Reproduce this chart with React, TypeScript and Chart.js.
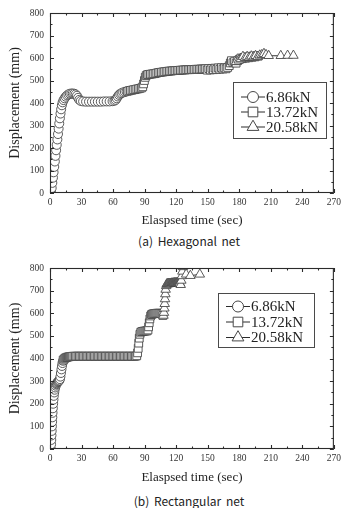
import React, { useEffect, useRef } from 'react';
import { Chart, registerables } from 'chart.js';

Chart.register(...registerables);

type Pt = [number, number];

const SERIES_LABELS = ['6.86kN', '13.72kN', '20.58kN'];
const X_MIN = 0;
const X_MAX = 270;
const X_STEP = 30;
const Y_MIN = 0;
const Y_MAX = 800;
const Y_STEP = 100;
const X_TITLE = 'Elaspsed time (sec)';
const Y_TITLE = 'Displacement (mm)';
const CAPTIONS = ['(a) Hexagonal net', '(b) Rectangular net'];

// (a) Hexagonal net — [time (s), displacement (mm)]
const HEX_686: Pt[] = [
  [1.0, 2], [1.6, 22], [2.2, 45], [2.8, 68], [3.4, 92], [4.0, 116], [4.6, 140], [5.2, 165],
  [5.8, 190], [6.4, 214], [7.0, 238], [7.6, 262], [8.2, 286], [8.8, 309], [9.4, 332], [10.0, 353],
  [10.6, 372], [11.3, 390], [12.0, 403], [12.9, 413], [13.9, 421], [15.0, 428], [16.2, 434],
  [17.5, 438], [18.9, 441], [20.3, 442], [21.7, 442], [23.1, 441], [24.4, 438], [25.6, 432],
  [26.7, 423], [27.9, 414], [29.3, 409], [31.5, 407], [34.3, 406], [37.1, 406], [39.9, 406],
  [42.7, 406], [45.5, 406], [48.3, 406], [51.1, 407], [53.9, 407], [56.7, 407], [59.5, 408],
  [61.3, 410], [62.5, 414], [63.5, 421], [64.5, 429], [65.6, 436], [66.8, 441], [68.1, 444],
  [69.6, 447], [71.2, 449], [72.8, 451],
];

const HEX_1372: Pt[] = [
  [73.5, 452], [75, 454], [76.5, 456], [78, 457], [79.5, 459], [81, 460], [82.5, 462], [84, 463],
  [85.5, 465], [87, 467], [88.2, 472], [89, 485], [89.8, 500], [90.6, 514], [91.5, 522], [92.7, 526],
  [94, 527], [95.5, 528], [97, 529], [98.5, 530], [100, 531], [101.5, 533], [103, 535], [104.5, 536],
  [106, 537], [107.5, 538], [109, 539], [110.5, 540], [112, 541], [113.5, 542], [115, 542],
  [116.5, 543], [118, 544], [119.5, 544], [121, 545], [122.5, 545], [124, 546], [125.5, 546],
  [127, 547], [128.5, 547], [130, 548], [131.5, 548], [133, 548], [134.5, 549], [136, 549],
  [137.5, 549], [139, 550], [140.5, 550], [142, 550], [143.5, 551], [145, 551], [146.5, 551],
  [148, 552], [149.5, 546], [151, 553], [152.5, 547], [154, 554], [155.5, 548], [157, 555],
  [158.5, 549], [160, 556], [161.5, 550], [163, 557], [164.5, 551], [166, 556], [167.5, 552],
  [169, 558], [170.5, 566], [171.5, 578], [172.5, 588], [174, 579], [175.5, 584], [177, 577],
  [178.5, 588], [180, 594], [181.5, 600], [183, 597], [184.5, 602], [186, 599], [187.5, 604],
  [189, 601], [190.5, 606], [192, 603], [193.5, 608], [195, 605], [196.5, 610], [198, 608],
];

const HEX_2058: Pt[] = [
  [177, 583], [179.5, 590], [181.5, 596], [183.5, 606], [185.5, 601], [187.5, 606], [189.5, 603],
  [191.5, 608], [193.5, 604], [195.5, 610], [197.5, 606], [199.5, 612], [201.5, 614], [203.5, 619],
  [205.5, 614], [208, 610], [219.5, 610], [226, 611], [231.5, 611],
];

// (b) Rectangular net — [time (s), displacement (mm)]
const RECT_686: Pt[] = [
  [0.8, 0], [1.0, 20], [1.2, 40], [1.4, 60], [1.6, 80], [1.8, 100], [2.0, 120], [2.2, 140],
  [2.4, 160], [2.7, 180], [3.0, 200], [3.3, 218], [3.6, 235], [4.0, 250], [4.4, 262], [4.9, 272],
  [5.4, 280], [5.9, 286], [6.4, 290], [6.9, 293], [7.4, 296], [7.9, 298], [8.4, 300], [8.9, 303],
  [9.4, 309], [9.9, 320], [10.4, 336], [10.9, 352], [11.4, 367], [11.9, 380], [12.5, 390],
  [13.1, 397],
];

const RECT_1372: Pt[] = [
  [12.5, 393], [13.5, 398], [14.5, 402], [15.5, 404], [16.5, 406], [17.5, 407], [18.5, 408],
  [19.5, 409], [20.5, 409], [21.5, 410], [22.8, 410], [24.1, 410], [25.4, 410], [26.7, 410],
  [28, 410], [29.3, 410], [30.6, 410], [31.9, 410], [33.2, 410], [34.5, 410], [35.8, 410],
  [37.1, 410], [38.4, 410], [39.7, 410], [41, 410], [42.3, 410], [43.6, 410], [44.9, 410],
  [46.2, 410], [47.5, 410], [48.8, 410], [50.1, 410], [51.4, 410], [52.7, 410], [54, 410],
  [55.3, 410], [56.6, 410], [57.9, 410], [59.2, 410], [60.5, 410], [61.8, 410], [63.1, 410],
  [64.4, 410], [65.7, 410], [67, 410], [68.3, 410], [69.6, 410], [70.9, 410], [72.2, 410],
  [73.5, 410], [74.8, 410], [76.1, 410], [77.4, 410], [78.7, 410], [80, 410], [81.3, 410],
  [82.5, 412], [83.3, 425], [83.9, 445], [84.4, 468], [84.9, 490], [85.5, 507], [86.3, 516],
  [87.3, 519], [88.3, 520], [89.3, 521], [90.3, 521], [91.3, 522], [92.3, 522], [93.2, 526],
  [93.8, 540], [94.4, 558], [95, 575], [95.7, 588], [96.5, 594], [97.5, 597], [98.5, 598],
  [99.5, 599], [100.5, 599], [101.5, 600], [102.5, 600], [103.5, 600], [104.5, 600], [105.5, 599],
  [106.5, 597], [107.4, 590],
];

const RECT_2058: Pt[] = [
  [107.9, 590], [108.4, 603], [108.8, 622], [109.1, 642], [109.4, 663], [109.7, 685], [110, 705],
  [110.5, 721], [111, 728], [111.45, 729], [111.9, 729], [112.35, 730], [112.8, 730], [113.25, 730],
  [113.7, 731], [114.15, 731], [114.6, 731], [115.05, 731], [115.5, 732], [115.95, 732], [116.4, 732],
  [116.85, 732], [117.3, 732], [117.75, 733], [118.2, 733], [118.65, 733], [119.1, 733], [119.55, 733],
  [120, 733], [120.45, 733], [120.9, 734], [121.35, 734], [121.8, 734], [122.25, 734], [122.7, 734],
  [123.15, 734], [123.6, 732], [124.3, 726], [124.9, 745], [125.4, 765], [125.9, 785], [126.4, 805],
  [126.9, 825], [129.5, 772], [133.5, 766], [142.5, 772],
];

const HEX_SERIES: Pt[][] = [HEX_686, HEX_1372, HEX_2058];
const RECT_SERIES: Pt[][] = [RECT_686, RECT_1372, RECT_2058];

const SERIF = '"Liberation Serif", "Times New Roman", serif';
const INK = '#2b2b2b';
const MARK_INK = '#484848';
const MARKERS = [
  { pointStyle: 'circle', pointRadius: 4.5 },
  { pointStyle: 'rect', pointRadius: 5.5 },
  { pointStyle: 'triangle', pointRadius: 5.5 },
];

function drawMarker(ctx: CanvasRenderingContext2D, style: string, x: number, y: number, r: number) {
  ctx.beginPath();
  if (style === 'circle') {
    ctx.arc(x, y, r, 0, Math.PI * 2);
  } else if (style === 'rect') {
    const s = r * Math.SQRT1_2;
    ctx.rect(x - s, y - s, 2 * s, 2 * s);
  } else {
    const a = Math.PI / 6;
    ctx.moveTo(x, y - r);
    ctx.lineTo(x + r * Math.cos(a), y + r * Math.sin(a));
    ctx.lineTo(x - r * Math.cos(a), y + r * Math.sin(a));
    ctx.closePath();
  }
  ctx.fillStyle = '#fff';
  ctx.fill();
  ctx.strokeStyle = MARK_INK;
  ctx.lineWidth = 1;
  ctx.stroke();
}

// Plot frame with inward major/minor ticks on all four sides
const frameTicks = {
  id: 'frameTicks',
  afterDatasetsDraw(chart: any) {
    const { ctx, chartArea, scales } = chart;
    const { left, right, top, bottom } = chartArea;
    const xs = scales.x;
    const ys = scales.y;
    ctx.save();
    ctx.strokeStyle = INK;
    ctx.lineWidth = 1.1;
    ctx.strokeRect(left + 0.5, top + 0.5, right - left - 1, bottom - top - 1);
    ctx.beginPath();
    for (let v = X_MIN; v <= X_MAX; v += X_STEP / 2) {
      const len = (v - X_MIN) % X_STEP === 0 ? 4 : 2.5;
      const px = Math.round(xs.getPixelForValue(v)) + 0.5;
      ctx.moveTo(px, bottom);
      ctx.lineTo(px, bottom - len);
      ctx.moveTo(px, top);
      ctx.lineTo(px, top + len);
    }
    for (let v = Y_MIN; v <= Y_MAX; v += Y_STEP / 2) {
      const len = (v - Y_MIN) % Y_STEP === 0 ? 4 : 2.5;
      const py = Math.round(ys.getPixelForValue(v)) + 0.5;
      ctx.moveTo(left, py);
      ctx.lineTo(left + len, py);
      ctx.moveTo(right, py);
      ctx.lineTo(right - len, py);
    }
    ctx.stroke();
    ctx.restore();
  },
};

// Boxed legend drawn inside the plot area
const legendBox = {
  id: 'legendBox',
  afterDraw(chart: any, _args: any, opts: any) {
    const { ctx } = chart;
    const { x, y, w, h, firstRow, rowGap } = opts;
    ctx.save();
    ctx.fillStyle = '#fff';
    ctx.fillRect(x, y, w, h);
    ctx.strokeStyle = '#4a4a4a';
    ctx.lineWidth = 1;
    ctx.strokeRect(x + 0.5, y + 0.5, w, h);
    chart.data.datasets.forEach((ds: any, i: number) => {
      const cy = y + firstRow + i * rowGap;
      ctx.beginPath();
      ctx.moveTo(x + 8, cy);
      ctx.lineTo(x + 32, cy);
      ctx.strokeStyle = INK;
      ctx.lineWidth = 1;
      ctx.stroke();
      drawMarker(ctx, ds.pointStyle, x + 20, cy, ds.pointStyle === 'circle' ? 5.5 : 6.8);
      ctx.fillStyle = '#222';
      ctx.font = `15px ${SERIF}`;
      ctx.textBaseline = 'middle';
      ctx.textAlign = 'left';
      ctx.fillText(ds.label, x + 33, cy + 1);
    });
    ctx.restore();
  },
};

function buildChart(canvas: HTMLCanvasElement, series: Pt[][], padTop: number, xAxisHeight: number, legend: any) {
  return new Chart(canvas, {
    type: 'scatter',
    data: {
      datasets: series.map((pts, i) => ({
        label: SERIES_LABELS[i],
        data: pts.map(([x, y]) => ({ x, y })),
        showLine: true,
        borderColor: '#333',
        borderWidth: 1,
        pointBackgroundColor: '#fff',
        pointBorderColor: MARK_INK,
        pointBorderWidth: 0.9,
        pointStyle: MARKERS[i].pointStyle as any,
        pointRadius: MARKERS[i].pointRadius,
        pointHoverRadius: MARKERS[i].pointRadius,
        order: 2 - i,
      })),
    },
    options: {
      responsive: false,
      animation: false,
      events: [],
      layout: { padding: { top: padTop, right: 11, left: 0, bottom: 0 } },
      plugins: {
        legend: { display: false },
        tooltip: { enabled: false },
        legendBox: legend,
      } as any,
      scales: {
        x: {
          type: 'linear',
          min: X_MIN,
          max: X_MAX,
          grid: { display: false, drawTicks: false },
          border: { display: false },
          ticks: {
            stepSize: X_STEP,
            autoSkip: false,
            maxRotation: 0,
            padding: 4,
            color: '#333',
            font: { family: SERIF, size: 9.5 },
          },
          title: {
            display: true,
            text: X_TITLE,
            color: '#222',
            font: { family: SERIF, size: 13 },
            padding: { top: 0, bottom: 3.2 },
          },
          afterFit: (s: any) => {
            s.height = xAxisHeight;
          },
        },
        y: {
          type: 'linear',
          min: Y_MIN,
          max: Y_MAX,
          grid: { display: false, drawTicks: false },
          border: { display: false },
          ticks: {
            stepSize: Y_STEP,
            padding: 6,
            color: '#333',
            font: { family: SERIF, size: 9.5 },
          },
          title: {
            display: true,
            text: Y_TITLE,
            color: '#222',
            font: { family: SERIF, size: 14 },
            padding: { top: 6.6, bottom: 0 },
          },
          afterFit: (s: any) => {
            s.width = 50;
          },
        },
      },
    },
    plugins: [frameTicks, legendBox],
  } as any);
}

const captionStyle = (top: number): React.CSSProperties => ({
  position: 'absolute',
  left: 89,
  width: 200,
  top,
  height: 16,
  lineHeight: '16px',
  textAlign: 'center',
  fontFamily: '"Noto Sans CJK KR", "Noto Sans", sans-serif',
  fontSize: 12,
  color: '#222',
  wordSpacing: 2,
  whiteSpace: 'nowrap',
});

export default function App() {
  const hexRef = useRef<HTMLCanvasElement>(null);
  const rectRef = useRef<HTMLCanvasElement>(null);

  useEffect(() => {
    const a = buildChart(hexRef.current!, HEX_SERIES, 13, 39, {
      x: 233, y: 82, w: 93, h: 56, firstRow: 15, rowGap: 15,
    });
    const b = buildChart(rectRef.current!, RECT_SERIES, 18, 40, {
      x: 218, y: 43, w: 96, h: 54, firstRow: 13.5, rowGap: 15.5,
    });
    return () => {
      a.destroy();
      b.destroy();
    };
  }, []);

  return (
    <div style={{ position: 'absolute', left: 0, top: 0, width: 345, height: 508, background: '#fff', overflow: 'hidden' }}>
      <canvas ref={hexRef} width={345} height={232} style={{ position: 'absolute', left: 0, top: 0 }} />
      <div style={captionStyle(233)}>{CAPTIONS[0]}</div>
      <canvas ref={rectRef} width={345} height={239} style={{ position: 'absolute', left: 0, top: 250 }} />
      <div style={captionStyle(493)}>{CAPTIONS[1]}</div>
    </div>
  );
}
